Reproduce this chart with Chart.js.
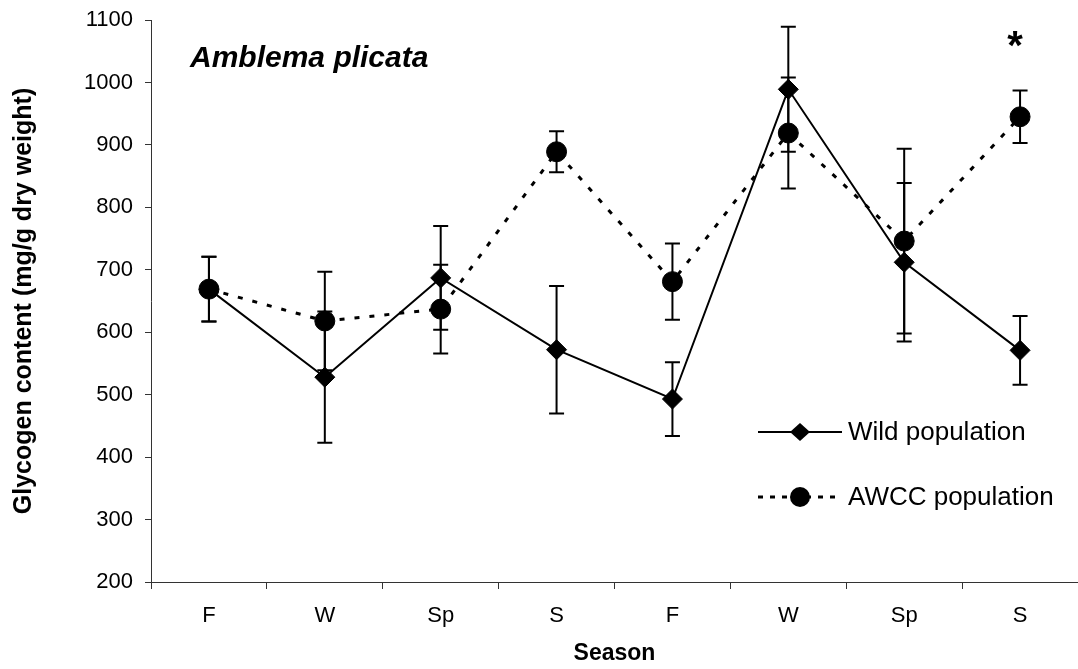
<!DOCTYPE html>
<html>
<head>
<meta charset="utf-8">
<title>Amblema plicata glycogen</title>
<script src="https://cdn.jsdelivr.net/npm/chart.js@4/dist/chart.umd.min.js"></script>
<style>
  body { margin: 0; background: #fff; }
  #chart { display: block; }
</style>
</head>
<body>
<canvas id="chart" width="1078" height="669"></canvas>
<script>
// seasons sampled over two years
const seasons = ["F", "W", "Sp", "S", "F", "W", "Sp", "S"];

// mean glycogen (mg/g dry weight) and +/- error
const wild = [669, 528, 687, 572, 493, 989, 712, 571];
const wildErr = [52, 105, 83, 102, 59, 100, 127, 55];
const awcc = [669, 618, 637, 889, 681, 919, 746, 945];
const awccErr = [52, 79, 71, 33, 61, 89, 148, 42];

// seasons where the two groups differ
const signif = [7];

const FONT = "'Liberation Sans', Arial, Helvetica, sans-serif";

// vertical error bars with caps, under the markers
const errorBars = {
  id: 'errorBars',
  beforeDatasetsDraw(chart) {
    const ctx = chart.ctx;
    const xs = chart.scales.x, ys = chart.scales.y;
    const sets = [[wild, wildErr], [awcc, awccErr]];
    ctx.save();
    ctx.strokeStyle = '#000';
    ctx.lineWidth = 2;
    sets.forEach(([vals, errs]) => {
      vals.forEach((v, i) => {
        const x = xs.getPixelForValue(i);
        const top = ys.getPixelForValue(v + errs[i]);
        const bot = ys.getPixelForValue(v - errs[i]);
        ctx.beginPath();
        ctx.moveTo(x, top); ctx.lineTo(x, bot);
        ctx.moveTo(x - 7.5, top); ctx.lineTo(x + 7.5, top);
        ctx.moveTo(x - 7.5, bot); ctx.lineTo(x + 7.5, bot);
        ctx.stroke();
      });
    });
    ctx.restore();
  }
};

// species name, significance star and the in-plot legend
const annotations = {
  id: 'annotations',
  afterDraw(chart) {
    const ctx = chart.ctx;
    const xs = chart.scales.x, ys = chart.scales.y;
    ctx.save();
    ctx.fillStyle = '#000';
    ctx.textAlign = 'left';
    ctx.textBaseline = 'alphabetic';
    ctx.font = 'italic bold 30px ' + FONT;
    ctx.fillText('Amblema plicata', 190, 67);

    ctx.font = 'bold 40px ' + FONT;
    ctx.textAlign = 'center';
    signif.forEach(i => {
      ctx.fillText('*', xs.getPixelForValue(i) - 5, ys.getPixelForValue(1067) + 18);
    });

    // legend rows
    const rows = [
      { label: 'Wild population', y: 432, dash: [], width: 2, style: 'diamond' },
      { label: 'AWCC population', y: 497, dash: [5, 7], width: 3, style: 'circle' }
    ];
    rows.forEach(r => {
      ctx.strokeStyle = '#000';
      ctx.lineWidth = r.width;
      ctx.setLineDash(r.dash);
      ctx.beginPath();
      ctx.moveTo(758, r.y); ctx.lineTo(842, r.y);
      ctx.stroke();
      ctx.setLineDash([]);
      ctx.beginPath();
      if (r.style === 'diamond') {
        ctx.moveTo(790, r.y); ctx.lineTo(800, r.y - 9);
        ctx.lineTo(810, r.y); ctx.lineTo(800, r.y + 9);
        ctx.closePath();
      } else {
        ctx.arc(800, r.y, 10, 0, Math.PI * 2);
      }
      ctx.fill();
      ctx.font = '26px ' + FONT;
      ctx.textAlign = 'left';
      ctx.textBaseline = 'middle';
      ctx.fillText(r.label, 848, r.y + 1);
    });
    ctx.restore();
  }
};

new Chart(document.getElementById('chart'), {
  type: 'line',
  data: {
    labels: seasons,
    datasets: [
      {
        label: 'Wild population',
        data: wild,
        borderColor: '#000',
        backgroundColor: '#000',
        borderWidth: 2,
        tension: 0,
        pointStyle: 'rectRot',
        pointRadius: 10,
        pointBorderWidth: 1,
        pointBackgroundColor: '#000',
        pointBorderColor: '#000'
      },
      {
        label: 'AWCC population',
        data: awcc,
        borderColor: '#000',
        backgroundColor: '#000',
        borderWidth: 3,
        borderDash: [5, 10],
        tension: 0,
        pointStyle: 'circle',
        pointRadius: 10,
        pointBorderWidth: 1,
        pointBackgroundColor: '#000',
        pointBorderColor: '#000'
      }
    ]
  },
  options: {
    responsive: false,
    animation: false,
    layout: { autoPadding: false, padding: { top: 20, right: 0, bottom: 0, left: 0 } },
    plugins: {
      legend: { display: false },
      tooltip: { enabled: false }
    },
    scales: {
      x: {
        offset: true,
        grid: { offset: true, drawOnChartArea: false, drawTicks: true, tickLength: 7, color: '#333', lineWidth: 1 },
        border: { color: '#333', width: 1 },
        ticks: { color: '#000', font: { family: FONT, size: 22 }, padding: 14, maxRotation: 0 },
        title: { display: true, text: 'Season', color: '#000', font: { family: FONT, size: 23, weight: 'bold' }, padding: { top: 0, bottom: 2 } },
        afterFit(scale) {
          scale.height = 87;
          scale.paddingLeft = 0;
          scale.paddingRight = 0;
        }
      },
      y: {
        min: 200,
        max: 1100,
        grid: { drawOnChartArea: false, drawTicks: true, tickLength: 6, color: '#333', lineWidth: 1 },
        border: { color: '#333', width: 1 },
        ticks: {
          stepSize: 100,
          color: '#000',
          font: { family: FONT, size: 22 },
          padding: 12,
          callback: v => String(v)
        },
        title: { display: true, text: 'Glycogen content (mg/g dry weight)', color: '#000', font: { family: FONT, size: 25, weight: 'bold' }, padding: { top: 9, bottom: 0 } },
        afterFit(scale) {
          scale.width = 151;
          scale.paddingTop = 0;
          scale.paddingBottom = 0;
        }
      }
    }
  },
  plugins: [errorBars, annotations]
});
</script>
</body>
</html>
